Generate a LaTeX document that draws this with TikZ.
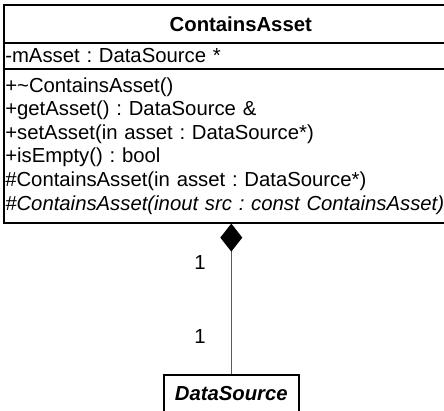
\documentclass[tikz,border=0pt]{standalone}
\usepackage{fontspec}
\setmainfont{Liberation Sans}
\usetikzlibrary{arrows.meta}
\frenchspacing
\begin{document}
\begin{tikzpicture}[x=1pt,y=-1pt,
  box/.style={draw=black, line width=1.6pt, inner sep=0pt, anchor=north west},
  uml/.style={font=\fontsize{20.3}{23.6}\selectfont},
  mult/.style={font=\fontsize{20.3}{23.6}\selectfont, inner sep=0pt},
  conn/.style={line width=1.3pt, draw=black!65, -{Diamond[length=28pt,width=22pt,fill=black,color=black]}}]
\useasboundingbox (0,0) rectangle (444,410);
\node[box, uml, font=\fontsize{20.3}{23.6}\selectfont\bfseries, minimum width=474pt, minimum height=38pt] (title) at (3,4) {ContainsAsset};
\node[box, uml, inner xsep=1.5pt, text width=471pt, align=left, minimum width=474pt, minimum height=26pt] (attr) at (3,42) {-mAsset : DataSource *};
\node[box, uml, inner xsep=1.5pt, text width=471pt, align=left, minimum width=474pt, minimum height=154pt] (meth) at (3,68) {+\textasciitilde ContainsAsset()\\
+getAsset() : DataSource \&\\
+setAsset(in asset : DataSource*)\\
+isEmpty() : bool\\
\#ContainsAsset(in asset : DataSource*)\\
\textit{\#ContainsAsset(inout src : const ContainsAsset)}};
\node[box, uml, font=\fontsize{20.3}{23.6}\selectfont\bfseries\itshape, minimum width=135pt, minimum height=38pt] (ds) at (163,374) {DataSource};
\draw[conn] (ds.north) -- (ds.north |- meth.south);
\node[mult] (m1) at (200,263) {1};
\node[mult] (m2) at (200,337) {1};
\end{tikzpicture}
\end{document}
